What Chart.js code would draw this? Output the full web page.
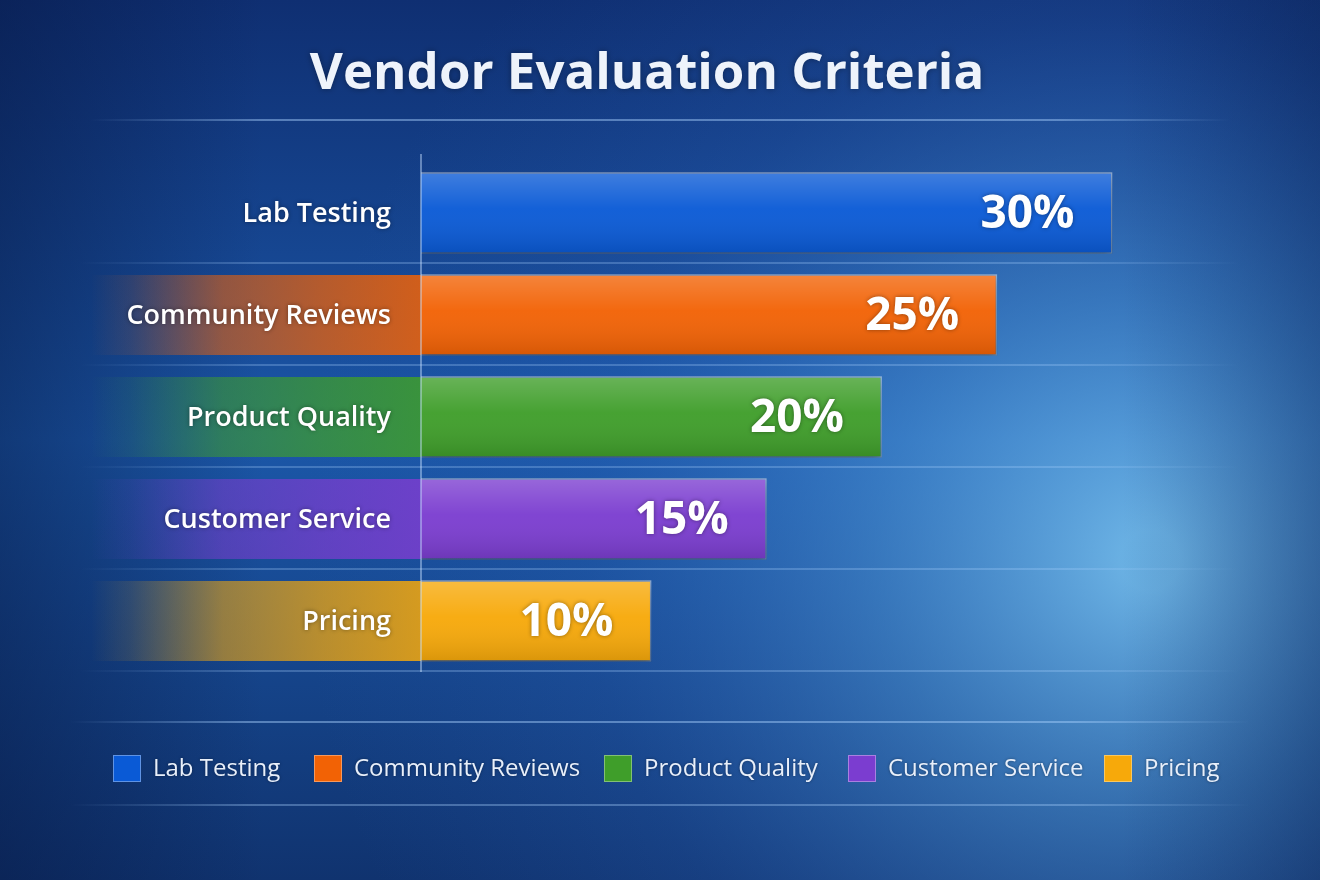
<!DOCTYPE html>
<html>
<head>
<meta charset="utf-8">
<script src="https://cdn.jsdelivr.net/npm/chart.js@4.4.1/dist/chart.umd.min.js"></script>
<style>
  html, body { margin: 0; padding: 0; background: #0d2f6e; }
  #wrap { width: 1320px; height: 880px; position: relative; }
</style>
</head>
<body>
<div id="wrap"><canvas id="chart" width="1320" height="880"></canvas></div>
<script>
const categories = ['Lab Testing', 'Community Reviews', 'Product Quality', 'Customer Service', 'Pricing'];
const weights = [30, 25, 20, 15, 10];
const barColors = ['#0a5ad6', '#f26205', '#3f9e2a', '#7b3dd0', '#f7a90a'];
const title = 'Vendor Evaluation Criteria';

const FONT = '"Open Sans", "Noto Sans", sans-serif';

// background, title, separators, row labels, legend
const decor = {
    id: 'decor',
    beforeDraw(chart) {
        const c = chart.ctx;
        const W = chart.width, H = chart.height;
        c.save();
        let g = c.createLinearGradient(0, 0, 0, H);
        g.addColorStop(0, '#0f2f72');
        g.addColorStop(0.5, '#1b57a8');
        g.addColorStop(1, '#10336f');
        c.fillStyle = g;
        c.fillRect(0, 0, W, H);
        g = c.createRadialGradient(1150, 560, 30, 1100, 540, 800);
        g.addColorStop(0, 'rgba(125,200,245,0.8)');
        g.addColorStop(0.3, 'rgba(85,160,225,0.5)');
        g.addColorStop(0.65, 'rgba(50,110,200,0.2)');
        g.addColorStop(1, 'rgba(40,90,180,0)');
        c.fillStyle = g;
        c.fillRect(0, 0, W, H);
        g = c.createLinearGradient(0, 0, W, 0);
        g.addColorStop(0, 'rgba(5,20,60,0.45)');
        g.addColorStop(0.2, 'rgba(5,20,60,0)');
        g.addColorStop(0.85, 'rgba(5,20,60,0)');
        g.addColorStop(1, 'rgba(5,20,60,0.3)');
        c.fillStyle = g;
        c.fillRect(0, 0, W, H);

        // title
        c.fillStyle = '#eef3fb';
        c.font = `bold 51px ${FONT}`;
        c.textAlign = 'center';
        c.textBaseline = 'middle';
        c.shadowColor = 'rgba(0,0,0,0.35)';
        c.shadowBlur = 6;
        c.fillText(title, 647, 74);
        c.shadowBlur = 0;

        const hline = (y, x0, x1, a) => {
            const lg = c.createLinearGradient(x0, 0, x1, 0);
            lg.addColorStop(0, 'rgba(170,210,255,0)');
            lg.addColorStop(0.15, `rgba(170,210,255,${a})`);
            lg.addColorStop(0.85, `rgba(170,210,255,${a})`);
            lg.addColorStop(1, 'rgba(170,210,255,0)');
            c.strokeStyle = lg;
            c.lineWidth = 2;
            c.beginPath(); c.moveTo(x0, y); c.lineTo(x1, y); c.stroke();
        };
        hline(120, 90, 1230, 0.45);
        hline(722, 70, 1250, 0.45);
        hline(805, 70, 1250, 0.35);

        // row separators and label backgrounds
        const ys = chart.scales.y;
        const area = chart.chartArea;
        categories.forEach((cat, i) => {
            const yc = ys.getPixelForValue(i);
            const h = 80;
            if (i > 0) {
                const lg = c.createLinearGradient(area.left - 330, 0, area.left, 0);
                lg.addColorStop(0, barColors[i] + '00');
                lg.addColorStop(0.12, barColors[i] + '20');
                lg.addColorStop(0.4, barColors[i] + '90');
                lg.addColorStop(0.7, barColors[i] + 'b8');
                lg.addColorStop(1, barColors[i] + 'd8');
                c.fillStyle = lg;
                c.fillRect(area.left - 330, yc - h / 2, 330, h);
            }
            hline(yc + 50, 80, 1240, 0.28);
        });
        c.restore();
    },
    beforeDatasetsDraw(chart) {
        chart.ctx.save();
        chart.ctx.shadowColor = 'rgba(0,0,0,0.35)';
        chart.ctx.shadowBlur = 10;
        chart.ctx.shadowOffsetY = 3;
    },
    afterDatasetsDraw(chart) {
        const c = chart.ctx;
        c.restore();
        // gloss on bars
        c.save();
        chart.getDatasetMeta(0).data.forEach((bar) => {
            const top = bar.y - bar.height / 2;
            const g = c.createLinearGradient(0, top, 0, top + bar.height);
            g.addColorStop(0, 'rgba(255,255,255,0.22)');
            g.addColorStop(0.45, 'rgba(255,255,255,0.04)');
            g.addColorStop(1, 'rgba(0,0,0,0.12)');
            c.fillStyle = g;
            c.fillRect(bar.base, top, bar.x - bar.base, bar.height);
        });
        c.restore();
    },
    afterDraw(chart) {
        const c = chart.ctx;
        const ys = chart.scales.y, xs = chart.scales.x;
        const area = chart.chartArea;
        c.save();
        // axis line
        c.strokeStyle = 'rgba(200,225,255,0.6)';
        c.lineWidth = 1.5;
        c.beginPath(); c.moveTo(area.left, area.top - 8); c.lineTo(area.left, area.bottom); c.stroke();

        c.textBaseline = 'middle';
        c.shadowColor = 'rgba(0,0,0,0.4)';
        c.shadowBlur = 4;
        categories.forEach((cat, i) => {
            const yc = ys.getPixelForValue(i);
            c.fillStyle = '#ffffff';
            c.font = `600 27px ${FONT}`;
            c.textAlign = 'right';
            c.fillText(cat, area.left - 30, yc + 1);
            c.font = `bold 46px ${FONT}`;
            c.fillText(weights[i] + '%', xs.getPixelForValue(weights[i]) - 38, yc + 2);
        });

        // legend
        c.font = `500 24px ${FONT}`;
        c.textAlign = 'left';
        const lx = [113, 314, 604, 848, 1104];
        categories.forEach((cat, i) => {
            c.shadowBlur = 0;
            c.fillStyle = barColors[i];
            c.fillRect(lx[i], 755, 28, 27);
            c.strokeStyle = 'rgba(255,255,255,0.35)';
            c.lineWidth = 1;
            c.strokeRect(lx[i] + 0.5, 755.5, 27, 26);
            c.shadowBlur = 3;
            c.fillStyle = '#e8effa';
            c.fillText(cat, lx[i] + 40, 769);
        });
        c.restore();
    }
};

const ctx = document.getElementById('chart').getContext('2d');

new Chart(ctx, {
    type: 'bar',
    data: {
        labels: categories,
        datasets: [{
            data: weights,
            backgroundColor: barColors,
            borderColor: 'rgba(255,255,255,0.35)',
            borderWidth: 1.5,
            barPercentage: 0.8,
            categoryPercentage: 1.0,
        }]
    },
    options: {
        indexAxis: 'y',
        responsive: false,
        animation: false,
        layout: { padding: { left: 421, right: 173, top: 162, bottom: 208 } },
        plugins: { legend: { display: false }, tooltip: { enabled: false } },
        scales: {
            x: { min: 0, max: 31.5, display: false, grid: { display: false } },
            y: { display: false, grid: { display: false } }
        }
    },
    plugins: [decor]
});
</script>
</body>
</html>
